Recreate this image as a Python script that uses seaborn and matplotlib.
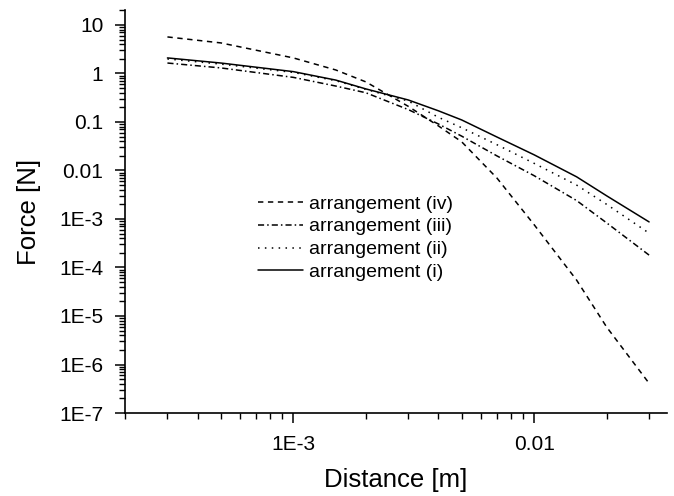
import matplotlib
matplotlib.use("Agg")
import matplotlib.pyplot as plt
import matplotlib.ticker as mticker
import pandas as pd
import seaborn as sns

distance = [3e-4, 5e-4, 1e-3, 1.5e-3, 2e-3, 3e-3, 4e-3, 5e-3, 7e-3, 1e-2, 1.5e-2, 2e-2, 3e-2]

# force [N] for each arrangement
force_i = [2.09, 1.64, 1.09, 0.73, 0.48, 0.284, 0.17, 0.11, 0.049, 0.021, 7.4e-3, 3.0e-3, 8.7e-4]
force_ii = [1.99, 1.56, 1.05, 0.71, 0.47, 0.27, 0.125, 0.076, 0.034, 0.014, 5.0e-3, 2.0e-3, 5.1e-4]
force_iii = [1.64, 1.3, 0.83, 0.55, 0.40, 0.18, 0.091, 0.051, 0.020, 7.8e-3, 2.4e-3, 8.3e-4, 1.8e-4]
force_iv = [5.66, 4.26, 2.09, 1.18, 0.67, 0.21, 0.083, 0.039, 7.0e-3, 7.6e-4, 5.5e-5, 5.9e-6, 4.1e-7]

labels = ["arrangement (iv)", "arrangement (iii)", "arrangement (ii)", "arrangement (i)"]
series = [force_iv, force_iii, force_ii, force_i]

rows = []
for lab, vals in zip(labels, series):
    for d, f in zip(distance, vals):
        rows.append({"Distance": d, "Force": f, "Arrangement": lab})
df = pd.DataFrame(rows)

sns.set_style("ticks")
plt.rcParams["font.family"] = ["Liberation Sans", "DejaVu Sans"]
plt.rcParams["text.color"] = "black"
plt.rcParams["axes.labelcolor"] = "black"
plt.rcParams["xtick.color"] = "black"
plt.rcParams["ytick.color"] = "black"

fig = plt.figure(figsize=(6.74, 4.96), dpi=100)
ax = fig.add_axes([0.1855, 0.1673, 0.8041, 0.8127])

dashes = {
    "arrangement (iv)": (3.5, 3),
    "arrangement (iii)": (4, 2, 1, 2),
    "arrangement (ii)": (1, 3.5),
    "arrangement (i)": "",
}
sns.lineplot(data=df, x="Distance", y="Force", hue="Arrangement", style="Arrangement",
             hue_order=labels, style_order=labels, dashes=dashes,
             palette=["black"] * 4, linewidth=1.1, ax=ax)

ax.set_xscale("log")
ax.set_yscale("log")
ax.set_xlim(2e-4, 0.0356)
ax.set_ylim(1e-7, 20.4)

ax.xaxis.set_major_locator(mticker.FixedLocator([1e-3, 1e-2]))
ax.set_xticklabels(["1E-3", "0.01"])
ax.xaxis.set_minor_locator(mticker.LogLocator(base=10, subs=range(2, 10), numticks=20))
ax.xaxis.set_minor_formatter(mticker.NullFormatter())

yt = [10, 1, 0.1, 0.01, 1e-3, 1e-4, 1e-5, 1e-6, 1e-7]
ytl = ["10", "1", "0.1", "0.01", "1E-3", "1E-4", "1E-5", "1E-6", "1E-7"]
ax.yaxis.set_major_locator(mticker.FixedLocator(yt))
ax.set_yticklabels(ytl)
ax.yaxis.set_minor_locator(mticker.LogLocator(base=10, subs=range(2, 10), numticks=20))
ax.yaxis.set_minor_formatter(mticker.NullFormatter())

ax.tick_params(which="major", length=7, width=1.1, labelsize=15, color="black", labelcolor="black")
ax.tick_params(which="minor", length=4, width=1.0, color="black")
ax.tick_params(axis="x", which="major", pad=9)
ax.tick_params(axis="y", which="major", pad=8.5)
for s in ["left", "bottom"]:
    ax.spines[s].set_linewidth(1.2)
    ax.spines[s].set_color("black")
sns.despine(ax=ax)

ax.set_xlabel("Distance [m]", fontsize=18.5, labelpad=10)
ax.set_ylabel("Force [N]", fontsize=18.5, labelpad=13.5)

ax.legend(loc="upper left", bbox_to_anchor=(0.228, 0.565), frameon=False, fontsize=14,
          handlelength=2.3, handletextpad=0.3, labelspacing=0.27, borderpad=0)

fig.savefig("out.png", dpi=100)
